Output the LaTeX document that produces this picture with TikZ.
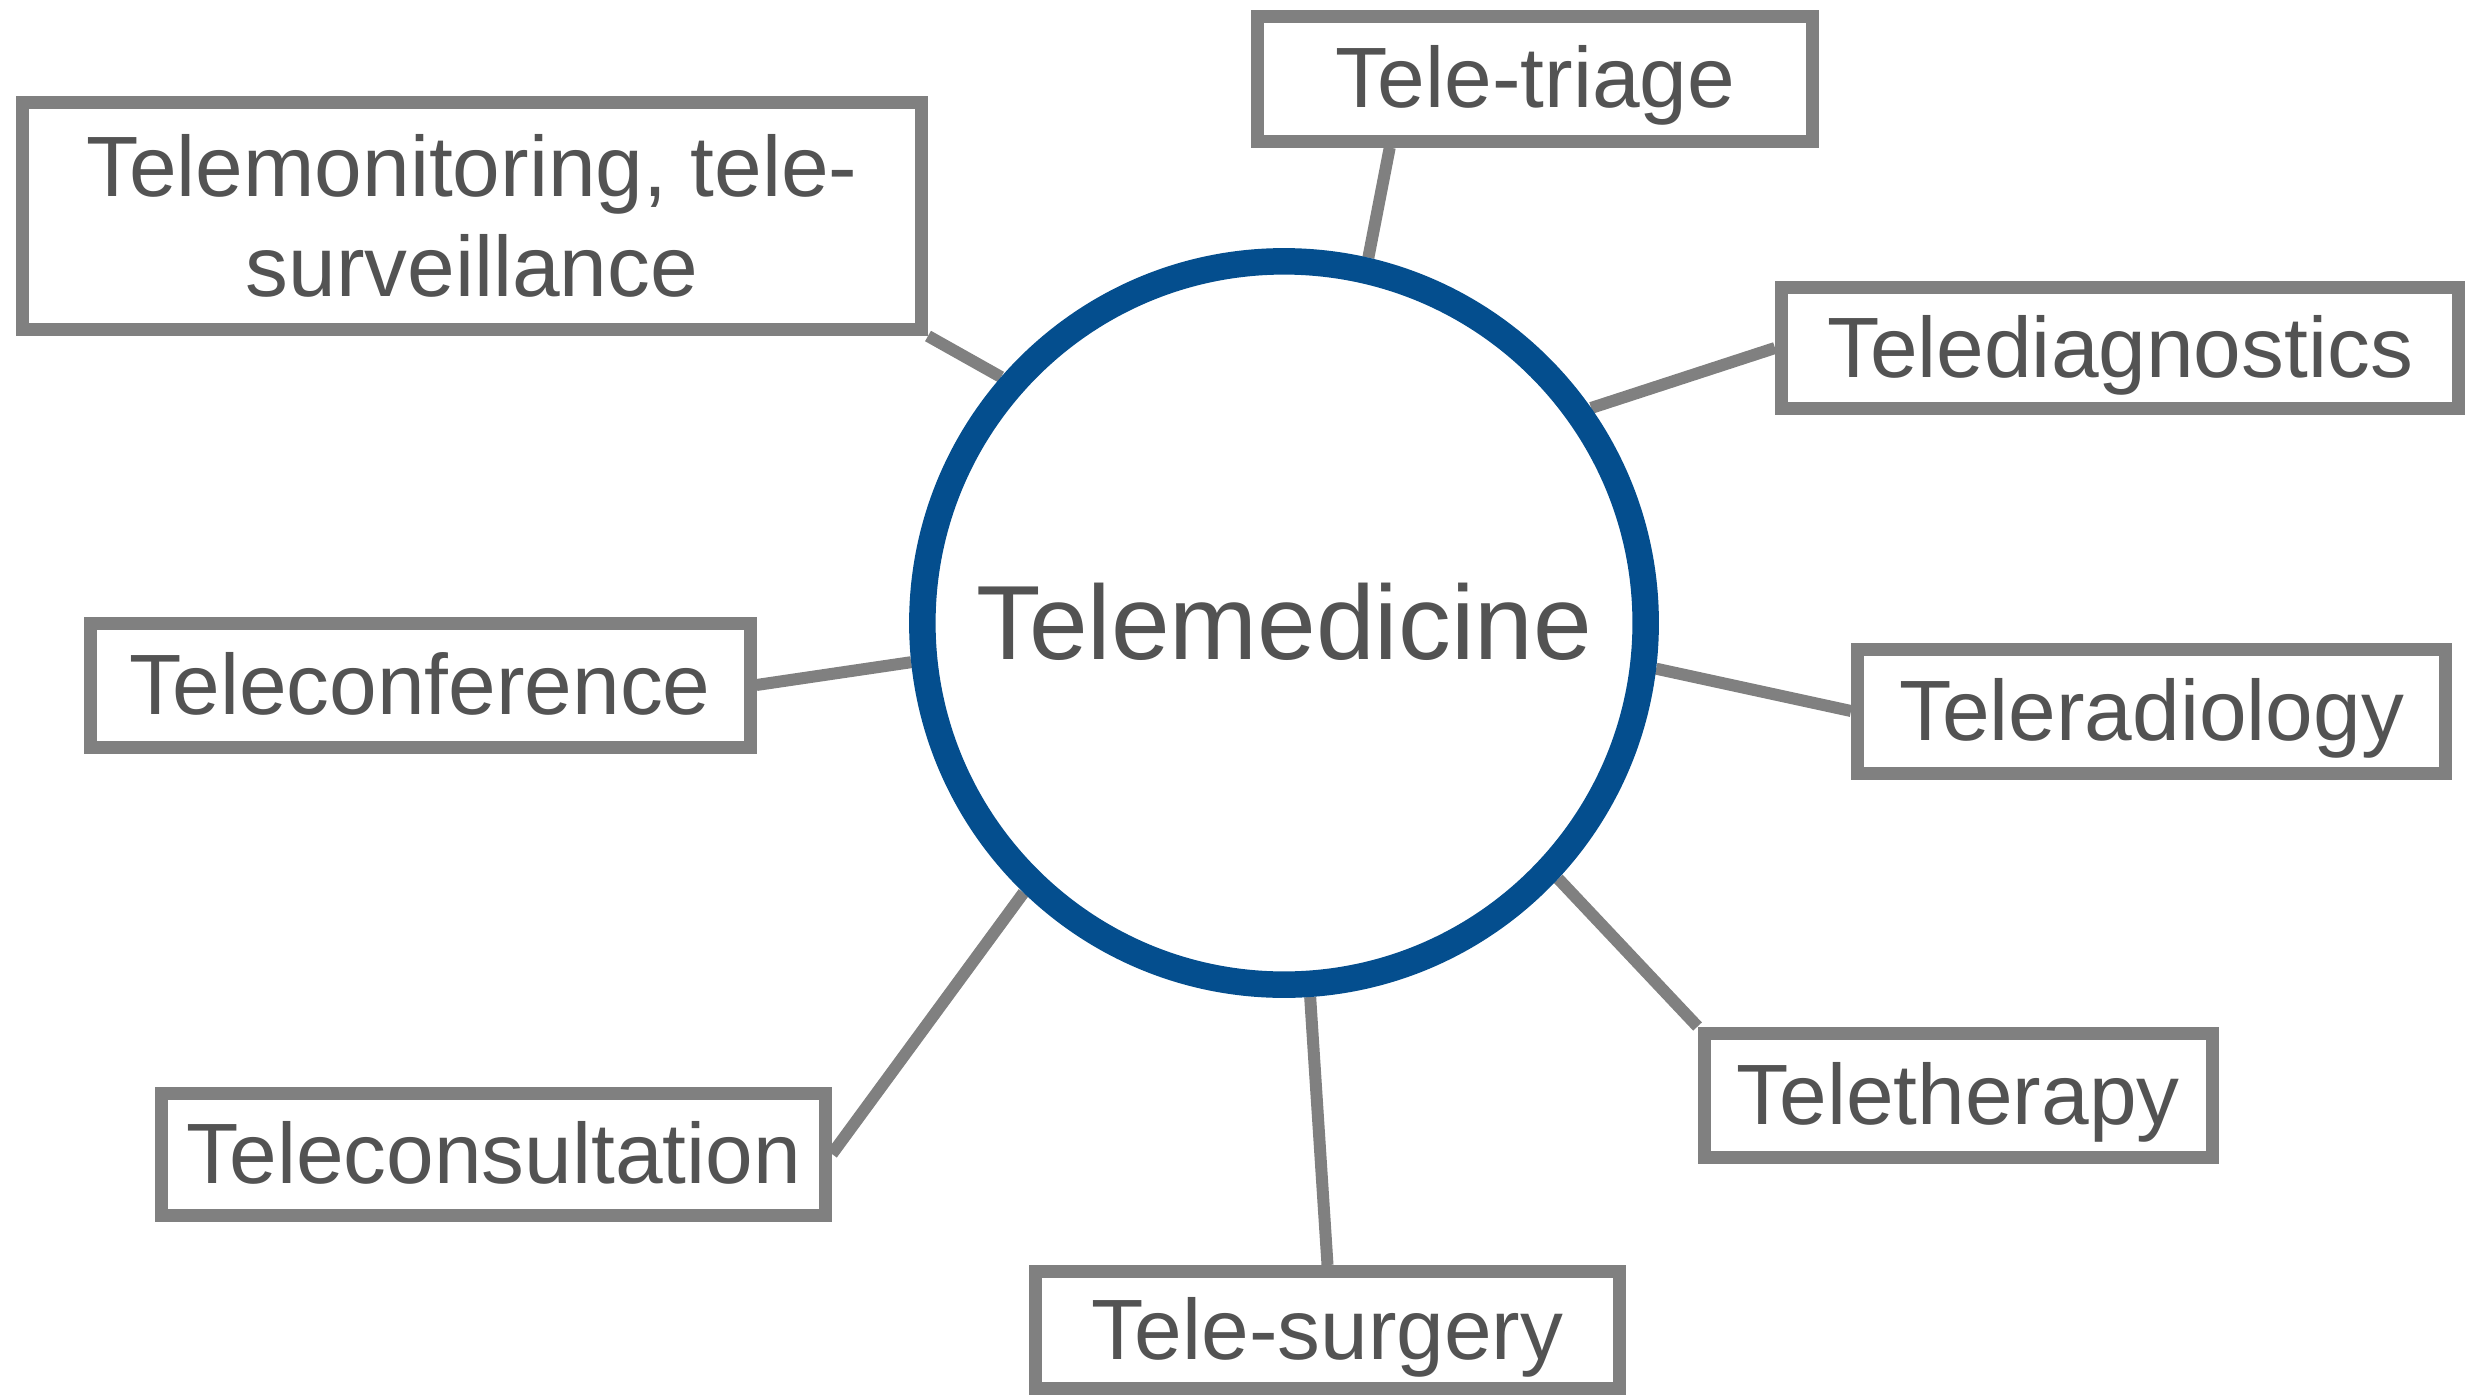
\documentclass[tikz,border=0pt]{standalone}
\usepackage{fontspec}
\setmainfont{Liberation Sans}
\usetikzlibrary{calc,backgrounds}
\definecolor{boxgray}{RGB}{128,128,128}
\definecolor{txtgray}{RGB}{83,83,83}
\definecolor{ringblue}{RGB}{4,78,142}
\begin{document}
\begin{tikzpicture}[x=0.3pt,y=-0.3pt,
  basebox/.style={draw=boxgray, line width=3.9pt, fill=white, inner sep=0pt,
    text=txtgray, font=\fontsize{25.7}{30}\selectfont, align=center},
  itembox/.style={basebox, text height=18.4pt, text depth=1pt},
  link/.style={draw=boxgray, line width=3.6pt},
  hub/.style={circle, draw=ringblue, line width=7.95pt, fill=white, inner sep=0pt,
    minimum size=217pt, text=txtgray, font=\fontsize{31.65}{38}\selectfont,
    text height=22.66pt, text depth=1pt}]
\useasboundingbox (0,0) rectangle (2474,1395);

\node[hub] (hub) at (1284,623) {Telemedicine};

\node[itembox, minimum width=166.35pt, minimum height=37.35pt] (triage) at (1535,78.8) {Tele-triage};
\node[basebox, minimum width=269.7pt, minimum height=68.1pt] (tm) at (472,216) {Telemonitoring, tele-\\surveillance};
\node[itembox, minimum width=203.1pt, minimum height=36.3pt] (td) at (2120,348) {Telediagnostics};
\node[itembox, minimum width=198pt, minimum height=37.2pt] (tc) at (420,685) {Teleconference};
\node[itembox, minimum width=176.4pt, minimum height=37.2pt] (tr) at (2151.5,711) {Teleradiology};
\node[itembox, minimum width=152.4pt, minimum height=37.2pt] (tth) at (1958,1095) {Teletherapy};
\node[itembox, minimum width=199.05pt, minimum height=36.6pt] (tcs) at (493.7,1154) {Teleconsultation};
\node[itembox, minimum width=175.2pt, minimum height=35.1pt] (ts) at (1327.5,1330) {Tele-surgery};

\begin{scope}[on background layer]
\draw[link] ($(triage.south west)!0.244!(triage.south east)$) -- (hub.77.6);
\draw[link] (tm.south east) -- (hub.139.65);
\draw[link] (td.west) -- (hub.35.4);
\draw[link] (tc.east) -- (hub.186.9);
\draw[link] (tr.west) -- (hub.-7.65);
\draw[link] (tth.north west) -- (hub.-43.5);
\draw[link] (tcs.east) -- (hub.226.5);
\draw[link] (ts.north) -- (hub.274);
\end{scope}
\end{tikzpicture}
\end{document}
